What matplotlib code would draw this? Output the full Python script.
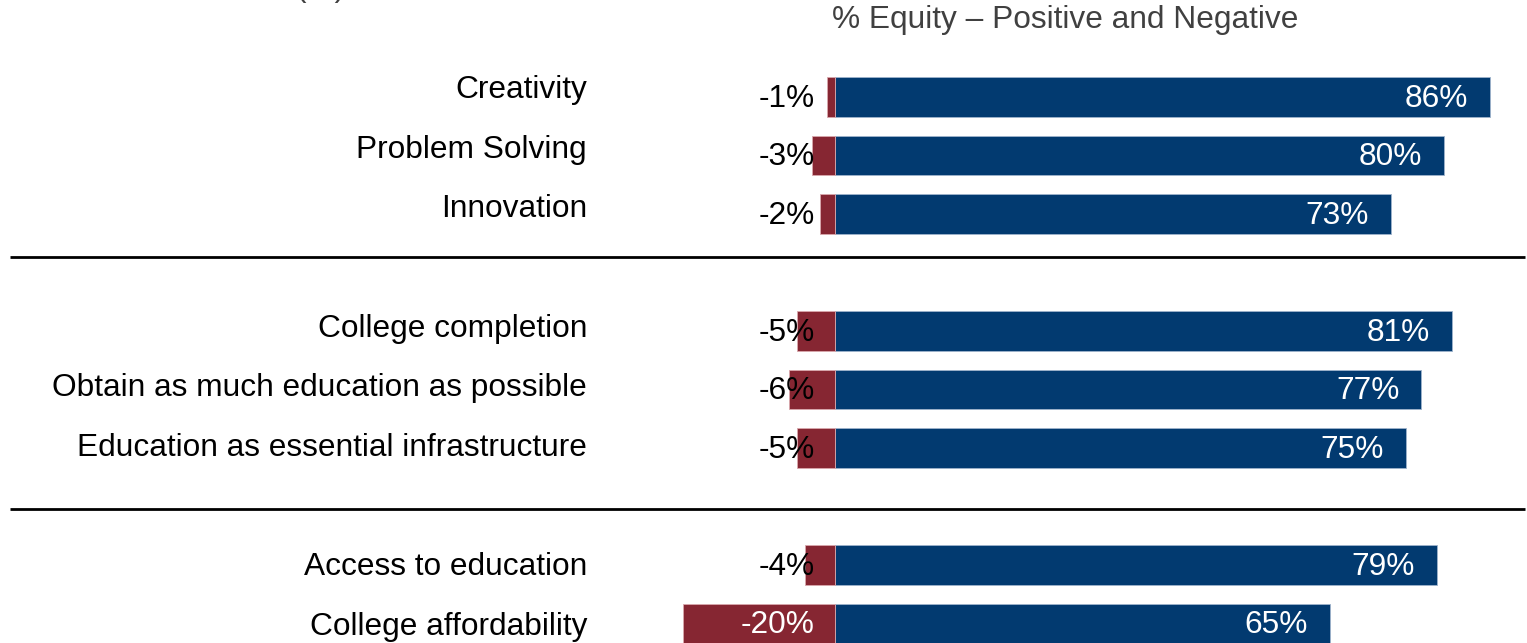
import matplotlib.pyplot as plt

plt.rcParams['font.family'] = ['Liberation Sans', 'DejaVu Sans']

categories = ["Creativity", "Problem Solving", "Innovation",
              "College completion", "Obtain as much education as possible",
              "Education as essential infrastructure",
              "Access to education", "College affordability"]
positive = [86, 80, 73, 81, 77, 75, 79, 65]
negative = [-1, -3, -2, -5, -6, -5, -4, -20]
rows = [0, 1, 2, 4, 5, 6, 8, 9]
separators = [2.73, 7.04]

navy = "#023A70"
red = "#862632"

W, H = 1527, 643
fig = plt.figure(figsize=(W / 100, H / 100), dpi=100)
ax = fig.add_axes([0, 0, 1, 1])

# pixel -> data mapping: zero at x=835, 7.616 px per percent; row 0 at y=97, 58.5 px per row
px_per_pct = 7.616
x0 = 835
ax.set_xlim(-x0 / px_per_pct, (W - x0) / px_per_pct)
row_px = 58.5
y0 = 97
ax.set_ylim((H - y0) / row_px, -y0 / row_px)
ax.axis("off")

bh = 0.68
ax.barh(rows, positive, height=bh, color=navy, edgecolor="#9fb3cc", linewidth=0.6)
ax.barh(rows, negative, height=bh, color=red, edgecolor="#d9a8ad", linewidth=0.6)

fs = 22.8
lab_x = (587 - x0) / px_per_pct
neg_x = (815 - x0) / px_per_pct
pad = 22 / px_per_pct
for r, cat, p, n in zip(rows, categories, positive, negative):
    # category names drift slightly against the bar rows
    ax.text(lab_x, r * 1.02 - 0.12, cat, ha="right", va="center", fontsize=fs, color="black")
    ax.text(p - pad, r + 0.03, f"{p}%", ha="right", va="center", fontsize=fs, color="white")
    # label sits inside the red bar only when the bar is long enough
    ncol = "white" if n <= -10 else "black"
    ax.text(neg_x, r + 0.03, f"{n}%", ha="right", va="center", fontsize=fs, color=ncol)

for s in separators:
    ax.plot([(10 - x0) / px_per_pct, (1525 - x0) / px_per_pct], [s, s], color="black", lw=2,
            solid_capstyle="butt")

fig.text(832 / W, 1 - 20 / H, "% Equity \u2013 Positive and Negative", ha="left", va="center",
         fontsize=fs, color="#404040")
fig.text(321 / W, 1 + 4 / H, "(%)", ha="center", va="baseline", fontsize=fs, color="#404040")

fig.savefig("out.png", dpi=100)
